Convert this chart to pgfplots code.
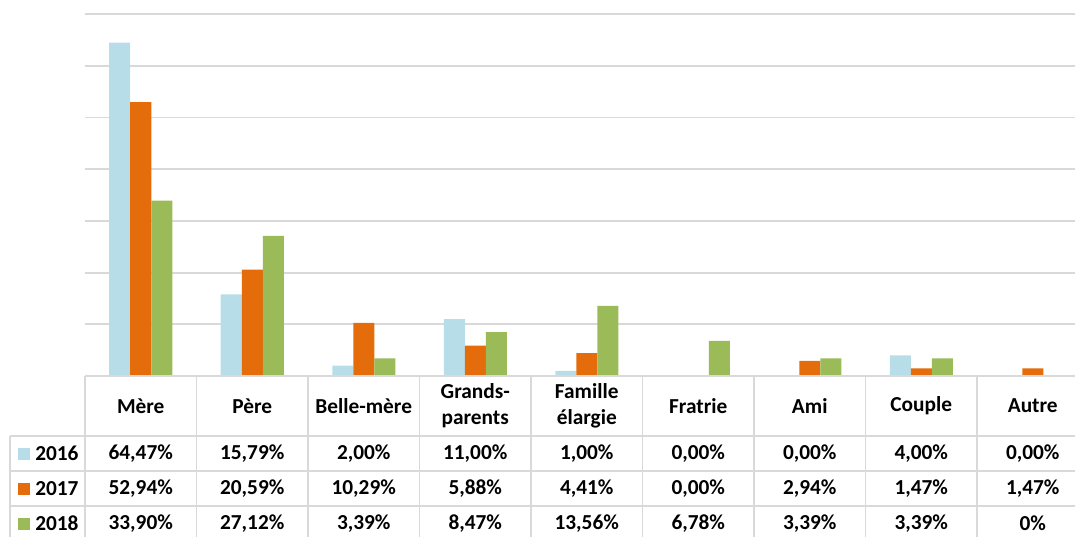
\documentclass[border=0pt]{standalone}
\usepackage{pgfplots}
\pgfplotsset{compat=1.18}
\usepackage{fontspec}
\setmainfont{Carlito}
\definecolor{cA}{HTML}{B7DEE8}
\definecolor{cB}{HTML}{E46C0A}
\definecolor{cC}{HTML}{9BBB59}
\definecolor{gridgray}{HTML}{D9D9D9}
\begin{document}
\begin{tikzpicture}[x=0.75pt,y=-0.75pt]
\useasboundingbox (0,0) rectangle (1075,536);
\clip (0,0) rectangle (1075,536);
\begin{axis}[
  at={(63.75pt,-282pt)}, anchor=south west,
  scale only axis, width=752.625pt, height=271.5pt,
  xmin=-0.5, xmax=8.5, ymin=0, ymax=70,
  ybar=0pt, bar width=15.75pt,
  axis line style={draw=none},
  xtick=\empty,
  ytick={0,10,...,70}, yticklabels={}, ytick style={draw=none},
  ymajorgrids, grid style={gridgray, line width=1.4pt},
  clip=false,
]
\addplot[fill=cA, draw=none] coordinates {(0,64.47) (1,15.79) (2,2.00) (3,11.00) (4,1.00) (5,0) (6,0) (7,4.00) (8,0)};
\addplot[fill=cB, draw=none] coordinates {(0,52.94) (1,20.59) (2,10.29) (3,5.88) (4,4.41) (5,0) (6,2.94) (7,1.47) (8,1.47)};
\addplot[fill=cC, draw=none] coordinates {(0,33.90) (1,27.12) (2,3.39) (3,8.47) (4,13.56) (5,6.78) (6,3.39) (7,3.39) (8,0)};
\end{axis}
% table grid
\begin{scope}[gridgray, line width=1.4pt]
\draw (85,376) -- (1090,376);
\foreach \yy in {436,471,506,541} \draw (10,\yy) -- (1090,\yy);
\draw (10,436) -- (10,541);
\foreach \k in {0,...,9} \draw ({85+111.5*\k},376) -- ({85+111.5*\k},541);
\end{scope}
\begin{scope}[every node/.style={font=\bfseries\fontsize{16}{19.5}\selectfont, inner sep=0pt, align=center}]
\foreach \lab [count=\i from 0] in {Mère,Père,Belle-mère,{Grands-\\parents},{Famille\\élargie},Fratrie,Ami,Couple,Autre}
  \node at ({140.75+111.5*\i},406) {\lab};
\end{scope}
\begin{scope}[every node/.style={font=\bfseries\fontsize{16}{19.5}\selectfont, inner sep=0pt}]
\fill[cA] (18,448) rectangle (30,460);
\fill[cB] (18,483) rectangle (30,495);
\fill[cC] (18,518) rectangle (30,530);
\node[anchor=west] at (35,453.5) {2016};
\node[anchor=west] at (35,488.5) {2017};
\node[anchor=west] at (35,523.5) {2018};
\foreach \v [count=\i from 0] in {{64,47\%},{15,79\%},{2,00\%},{11,00\%},{1,00\%},{0,00\%},{0,00\%},{4,00\%},{0,00\%}}
  \node at ({140.75+111.5*\i},453.5) {\v};
\foreach \v [count=\i from 0] in {{52,94\%},{20,59\%},{10,29\%},{5,88\%},{4,41\%},{0,00\%},{2,94\%},{1,47\%},{1,47\%}}
  \node at ({140.75+111.5*\i},488.5) {\v};
\foreach \v [count=\i from 0] in {{33,90\%},{27,12\%},{3,39\%},{8,47\%},{13,56\%},{6,78\%},{3,39\%},{3,39\%},{0\%}}
  \node at ({140.75+111.5*\i},523.5) {\v};
\end{scope}
\end{tikzpicture}
\end{document}
